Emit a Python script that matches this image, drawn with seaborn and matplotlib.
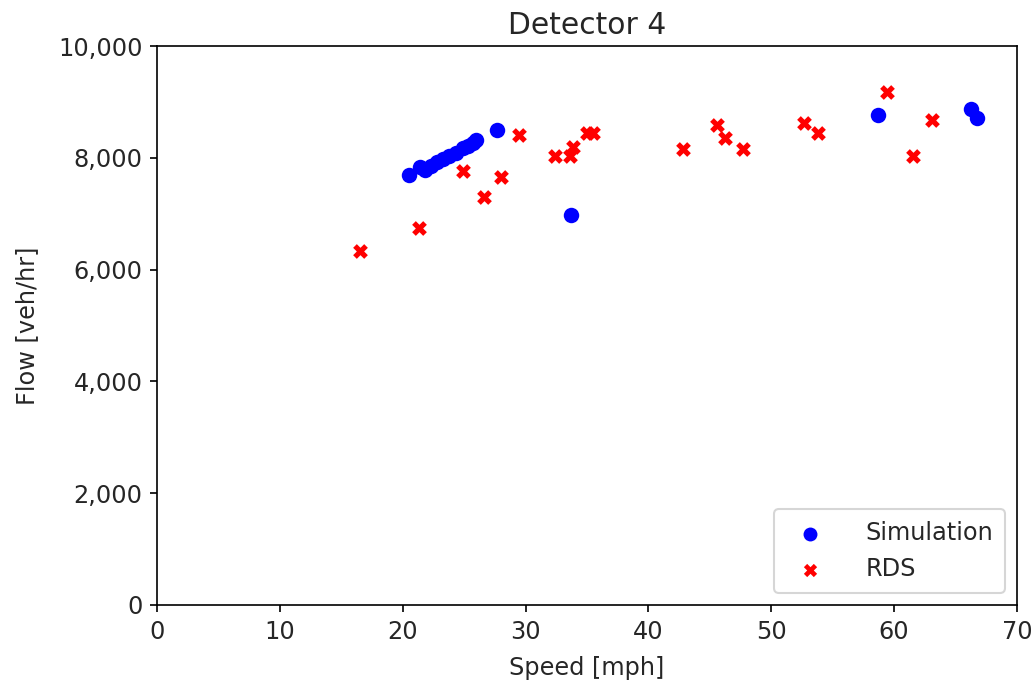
import matplotlib
matplotlib.use("Agg")
import matplotlib.pyplot as plt
import matplotlib.ticker as mticker
import seaborn as sns
import pandas as pd

sim_speed = [20.5, 21.4, 21.8, 22.3, 22.8, 23.3, 23.8, 24.3, 24.9, 25.3, 25.7, 26.0,
             27.7, 33.7, 58.7, 66.25, 66.75]
sim_flow = [7700, 7840, 7790, 7860, 7920, 7980, 8040, 8080, 8170, 8210, 8270, 8310,
            8490, 6970, 8770, 8870, 8710]

rds_speed = [16.5, 21.3, 24.9, 26.6, 28.0, 29.5, 32.4, 33.6, 33.9, 35.0, 35.5,
             42.8, 45.6, 46.2, 47.7, 52.7, 53.8, 59.4, 61.5, 63.1]
rds_flow = [6330, 6745, 7760, 7295, 7650, 8400, 8030, 8030, 8185, 8450, 8450,
            8165, 8585, 8350, 8165, 8630, 8440, 9185, 8030, 8675]

sim = pd.DataFrame({"Speed": sim_speed, "Flow": sim_flow})
rds = pd.DataFrame({"Speed": rds_speed, "Flow": rds_flow})

sns.set_style("ticks")
plt.rcParams['font.family'] = ['DejaVu Sans']

fig = plt.figure(figsize=(1033/150, 690/150), dpi=150)
ax = fig.add_axes([0.152, 0.1232, 0.8325, 0.8101])

sns.scatterplot(data=sim, x="Speed", y="Flow", color="blue", marker="o", s=55,
                linewidth=0, label="Simulation", ax=ax)
sns.scatterplot(data=rds, x="Speed", y="Flow", color="red", marker="X", s=50,
                linewidth=0, label="RDS", ax=ax)

ax.set_xlim(0, 70)
ax.set_ylim(0, 10000)
ax.set_xticks(range(0, 71, 10))
ax.set_yticks(range(0, 10001, 2000))
ax.yaxis.set_major_formatter(mticker.FuncFormatter(lambda v, p: f"{int(v):,}"))
for s in ax.spines.values():
    s.set_visible(True)
    s.set_color("black")
    s.set_linewidth(0.8)
ax.tick_params(labelsize=11.5, labelcolor="#262626", color="black", length=3.5)
ax.set_xlabel("Speed [mph]", fontsize=11.5, color="#262626", labelpad=6)
ax.set_ylabel("Flow [veh/hr]", fontsize=11.5, color="#262626", labelpad=9)
ax.set_title("Detector 4", fontsize=14.3, color="#262626")
leg = ax.legend(loc="lower right", fontsize=11.5, handletextpad=1.3,
                borderpad=0.5, markerscale=0.9)

fig.savefig("out.png", dpi=150)
